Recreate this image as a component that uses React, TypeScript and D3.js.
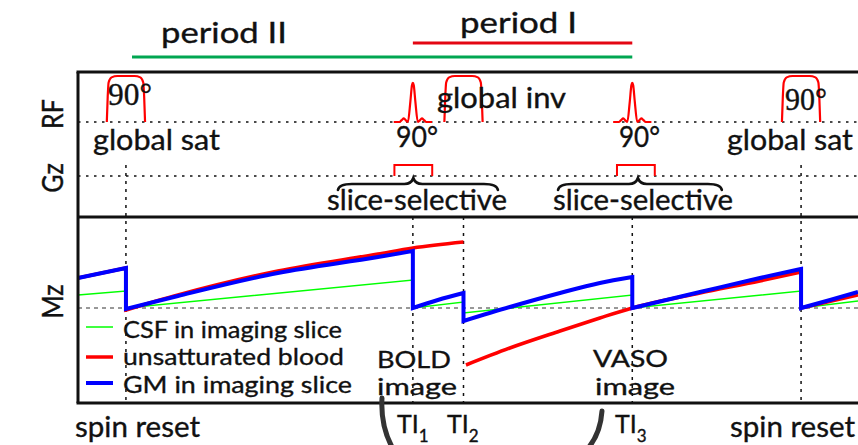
import React from 'react';
import * as d3 from 'd3';

// ---------------- data (time in ms, TR = 3000 ms) ----------------
const timeDomain: [number, number] = [-213, 3253];
const spinResetTimes = [0, 3000];
const tiTimes = [1275, 1500, 2250];
const tiSubscripts = ['1', '2', '3'];

const satPulseTimes = [0, 3000];
const invPulseTimes = [1500];
const sincPulseTimes = [1275, 2250];
const gzPulseTimes = [1277, 2266];

// RF / Gz pulse shapes: [time offset (ms), relative amplitude]
const blockPulseShape: [number, number][] = [
  [-85, 0], [-81, 0.55], [-77, 0.86], [-64, 0.97], [-38, 1.0], [0, 1.0],
  [38, 1.0], [64, 0.97], [77, 0.86], [81, 0.55], [85, 0],
];
const sincPulseShape: [number, number][] = [
  [-85, 0], [-60, 0], [-50, 0.04], [-40, 0.08], [-30, 0.03], [-22, 0],
  [-11, 0.45], [-4, 0.8], [0, 0.85], [4, 0.8], [11, 0.45], [22, 0],
  [30, 0.03], [40, 0.08], [50, 0.04], [60, 0], [85, 0],
];
const gzPulseShape: [number, number][] = [[-84, 0], [-84, 1], [84, 1], [84, 0]];

const braceStarts = [942, 1920];
const braceTips = [1277, 2275];
const braceEnds = [1653, 2648];

const periodIRange = [1275, 2250];
const periodIIRange = [27, 2250];

// Mz curves: segments of [time (ms), Mz]
const gmSegments: [number, number][][] = [
  [[-213, 0.30], [0, 0.40]],
  [[0, -0.01], [231, 0.12], [675, 0.35], [1120, 0.51], [1275, 0.57]],
  [[1275, 0.0], [1386, 0.08], [1500, 0.15]],
  [[1500, -0.13], [1706, 0.01], [1929, 0.15], [2106, 0.25], [2250, 0.31]],
  [[2250, 0.0], [2551, 0.16], [2817, 0.30], [3000, 0.39]],
  [[3000, 0.0], [3129, 0.08], [3253, 0.16]],
];
const bloodRuns: [number, number][][][] = [
  [
    [[-213, 0.30], [0, 0.40]],
    [[0, -0.02], [231, 0.13], [675, 0.37], [1120, 0.54], [1275, 0.60], [1500, 0.66]],
  ],
  [
    [[1511, -0.57], [1706, -0.40], [1929, -0.23], [2106, -0.10], [2250, 0.0], [2551, 0.15], [2817, 0.27], [3000, 0.36]],
    [[3000, 0.0], [3253, 0.13]],
  ],
];
const csfSegments: [number, number][][] = [
  [[-213, 0.13], [0, 0.17]],
  [[0, 0.0], [1275, 0.28]],
  [[1275, 0.0], [1500, 0.06]],
  [[1500, -0.05], [2250, 0.13]],
  [[2250, 0.0], [3000, 0.17]],
  [[3000, 0.0], [3253, 0.07]],
];

const legendLabels = ['CSF in imaging slice', 'unsatturated blood', 'GM in imaging slice'];
const legendColors = ['#00ff00', '#ff0000', '#0000ff'];

// ---------------- layout ----------------
const W = 858;
const H = 445;
const LEFT = 78;
const TOP = 72;
const DIV = 217;
const BOTTOM = 403;
const FONT = 'Lato, "Open Sans", sans-serif';
const SERIF = '"Liberation Serif", "DejaVu Serif", serif';
const INK = '#111';

const x = d3.scaleLinear().domain(timeDomain).range([LEFT, W]);
const yRF = d3.scaleLinear().domain([0, 1]).range([122, 76]);
const yGz = d3.scaleLinear().domain([0, 1]).range([176, 165]);
const yMz = d3.scaleLinear().domain([-0.95, 0.91]).range([BOTTOM, DIV]);

function segPath(segs: [number, number][][]): string {
  const line = d3
    .line<[number, number]>()
    .x((d) => x(d[0]))
    .y((d) => yMz(d[1]))
    .curve(d3.curveMonotoneX);
  return segs
    .map((s, i) => {
      const p = line(s) || '';
      return i === 0 ? p : 'L' + p.slice(1);
    })
    .join('');
}

function pulsePath(t: number, shape: [number, number][], yS: d3.ScaleLinear<number, number>, curve: d3.CurveFactory) {
  const line = d3
    .line<[number, number]>()
    .x((d) => x(t + d[0]))
    .y((d) => yS(d[1]))
    .curve(curve);
  return line(shape) || '';
}

function bracePath(a: number, m: number, b: number) {
  const xa = x(a), xm = x(m), xb = x(b);
  const yt = 178, ya = 184, ye = 190;
  return `M${xa},${ye} Q${xa + 1},${ya} ${xa + 14},${ya} L${xm - 9},${ya} Q${xm - 2},${ya} ${xm},${yt} Q${xm + 2},${ya} ${xm + 9},${ya} L${xb - 14},${ya} Q${xb - 1},${ya} ${xb},${ye}`;
}

const textPaint = { fill: INK, stroke: INK, strokeWidth: 0.35 };

type TProps = { x: number; y: number; w?: number; size?: number; family?: string; children: React.ReactNode };
const Txt = ({ x: tx, y: ty, w, size = 28, family = FONT, children }: TProps) => (
  <text
    x={tx}
    y={ty}
    fontSize={size}
    fontFamily={family}
    {...textPaint}
    textLength={w}
    lengthAdjust={w ? 'spacingAndGlyphs' : undefined}
  >
    {children}
  </text>
);

type Line2 = { x: number; y: number; w: number; text: string };
const TwoLine = ({ lines, size = 24 }: { lines: Line2[]; size?: number }) => (
  <text fontSize={size} fontFamily={FONT} {...textPaint}>
    {lines.map((l, i) => (
      <tspan key={i} x={l.x} y={l.y} textLength={l.w} lengthAdjust="spacingAndGlyphs">
        {l.text}
      </tspan>
    ))}
  </text>
);

const RotLabel = ({ cy, text }: { cy: number; text: string }) => (
  <text
    transform={`translate(63,${cy}) scale(1.17,1) rotate(-90)`}
    textAnchor="middle"
    fontSize={25}
    fontFamily={FONT}
    {...textPaint}
  >
    {text}
  </text>
);

export default function App() {
  const tiLabelX = [397, 447, 615];
  return (
    <svg
      width={W}
      height={H}
      viewBox={`0 0 ${W} ${H}`}
      style={{ position: 'absolute', left: 0, top: 0, display: 'block', background: '#fff' }}
    >
      {/* period labels */}
      <Txt x={161} y={43} w={126}>period II</Txt>
      <Txt x={460} y={33} w={117}>period I</Txt>
      <line x1={x(periodIRange[0])} x2={x(periodIRange[1])} y1={43} y2={43} stroke="#e30613" strokeWidth={3} />
      <line x1={x(periodIIRange[0])} x2={x(periodIIRange[1])} y1={57} y2={57} stroke="#00a651" strokeWidth={3} />

      {/* axis labels */}
      <RotLabel cy={114} text="RF" />
      <RotLabel cy={178} text="Gz" />
      <RotLabel cy={301.5} text="Mz" />

      {/* dotted baselines */}
      <line x1={LEFT} x2={W} y1={yRF(0)} y2={yRF(0)} stroke={INK} strokeWidth={1.3} strokeDasharray="2.5 5.5" />
      <line x1={LEFT} x2={W} y1={yGz(0)} y2={yGz(0)} stroke={INK} strokeWidth={1.3} strokeDasharray="2.5 5.5" />
      <line x1={LEFT} x2={W} y1={yMz(0)} y2={yMz(0)} stroke="#777" strokeWidth={1.3} strokeDasharray="4 4" />

      {/* vertical dotted lines */}
      {spinResetTimes.map((t) => (
        <line key={'sr' + t} x1={x(t)} x2={x(t)} y1={165} y2={BOTTOM} stroke={INK} strokeWidth={1.5} strokeDasharray="3 5" />
      ))}
      {tiTimes.map((t) => (
        <line key={'ti' + t} x1={x(t)} x2={x(t)} y1={DIV} y2={BOTTOM} stroke={INK} strokeWidth={1.5} strokeDasharray="3 5" />
      ))}

      {/* RF pulses */}
      {satPulseTimes.map((t) => (
        <path key={'sat' + t} d={pulsePath(t, blockPulseShape, yRF, d3.curveMonotoneX)} fill="none" stroke="#f00" strokeWidth={2.2} />
      ))}
      {invPulseTimes.map((t) => (
        <path key={'inv' + t} d={pulsePath(t, blockPulseShape, yRF, d3.curveMonotoneX)} fill="none" stroke="#f00" strokeWidth={2.2} />
      ))}
      {sincPulseTimes.map((t) => (
        <path key={'sinc' + t} d={pulsePath(t, sincPulseShape, yRF, d3.curveMonotoneX)} fill="none" stroke="#f00" strokeWidth={2.2} />
      ))}
      {/* Gz pulses */}
      {gzPulseTimes.map((t) => (
        <path key={'gz' + t} d={pulsePath(t, gzPulseShape, yGz, d3.curveLinear)} fill="none" stroke="#f00" strokeWidth={2} />
      ))}

      {/* braces */}
      {braceStarts.map((a, i) => (
        <path key={'br' + i} d={bracePath(a, braceTips[i], braceEnds[i])} fill="none" stroke={INK} strokeWidth={2.6} strokeLinecap="round" />
      ))}

      {/* RF / Gz texts */}
      <Txt x={108} y={105} w={44} size={31} family={SERIF}>90°</Txt>
      <Txt x={785} y={110} w={42} size={31} family={SERIF}>90°</Txt>
      <Txt x={93} y={150} w={127}>global sat</Txt>
      <Txt x={727} y={150} w={126}>global sat</Txt>
      <Txt x={437} y={108} w={129}>global inv</Txt>
      <Txt x={396} y={147} w={42}>90°</Txt>
      <Txt x={619} y={147} w={41}>90°</Txt>
      <Txt x={327} y={210} w={180}>slice-selective</Txt>
      <Txt x={553} y={210} w={180}>slice-selective</Txt>

      {/* Mz curves */}
      <path d={segPath(csfSegments)} fill="none" stroke="#00ff00" strokeWidth={1.5} />
      {bloodRuns.map((run, i) => (
        <path key={'bl' + i} d={segPath(run)} fill="none" stroke="#ff0000" strokeWidth={3.5} />
      ))}
      <path d={segPath(gmSegments)} fill="none" stroke="#0000ff" strokeWidth={4} strokeLinejoin="miter" />

      {/* legend */}
      {legendLabels.map((lab, i) => {
        const ly = [327, 357, 383][i];
        const ty = [338, 365, 393][i];
        const tw = [219, 221, 229][i];
        const sw = [1.5, 3.5, 4][i];
        return (
          <g key={lab}>
            <line x1={86} x2={113} y1={ly} y2={ly} stroke={legendColors[i]} strokeWidth={sw} />
            <Txt x={123} y={ty} w={tw} size={24}>{lab}</Txt>
          </g>
        );
      })}

      {/* image labels */}
      <TwoLine lines={[{ x: 377, y: 368, w: 74, text: 'BOLD' }, { x: 377, y: 395, w: 80, text: 'image' }]} />
      <TwoLine lines={[{ x: 593, y: 367, w: 75, text: 'VASO' }, { x: 595, y: 395, w: 80, text: 'image' }]} />

      {/* frame */}
      <line x1={LEFT - 1.5} x2={W} y1={TOP} y2={TOP} stroke={INK} strokeWidth={3} />
      <line x1={LEFT} x2={LEFT} y1={TOP} y2={BOTTOM} stroke={INK} strokeWidth={3} />
      <line x1={LEFT} x2={W} y1={DIV} y2={DIV} stroke={INK} strokeWidth={3} />
      <line x1={LEFT - 1.5} x2={W} y1={BOTTOM} y2={BOTTOM} stroke={INK} strokeWidth={3} />

      {/* bottom labels */}
      <Txt x={75} y={437} w={125}>spin reset</Txt>
      <Txt x={730} y={437} w={125}>spin reset</Txt>
      {tiTimes.map((t, i) => (
        <text key={'tl' + t} x={tiLabelX[i]} y={433} fontSize={25} fontFamily={FONT} {...textPaint}>
          TI<tspan fontSize={17} dy={9}>{tiSubscripts[i]}</tspan>
        </text>
      ))}

      {/* arcs */}
      <path d="M382,398 C381,415 384,432 392,447" fill="none" stroke="#333" strokeWidth={5} strokeLinecap="round" />
      <path d="M602,411 C601,425 597,437 589,447" fill="none" stroke="#333" strokeWidth={5} strokeLinecap="round" />
    </svg>
  );
}
